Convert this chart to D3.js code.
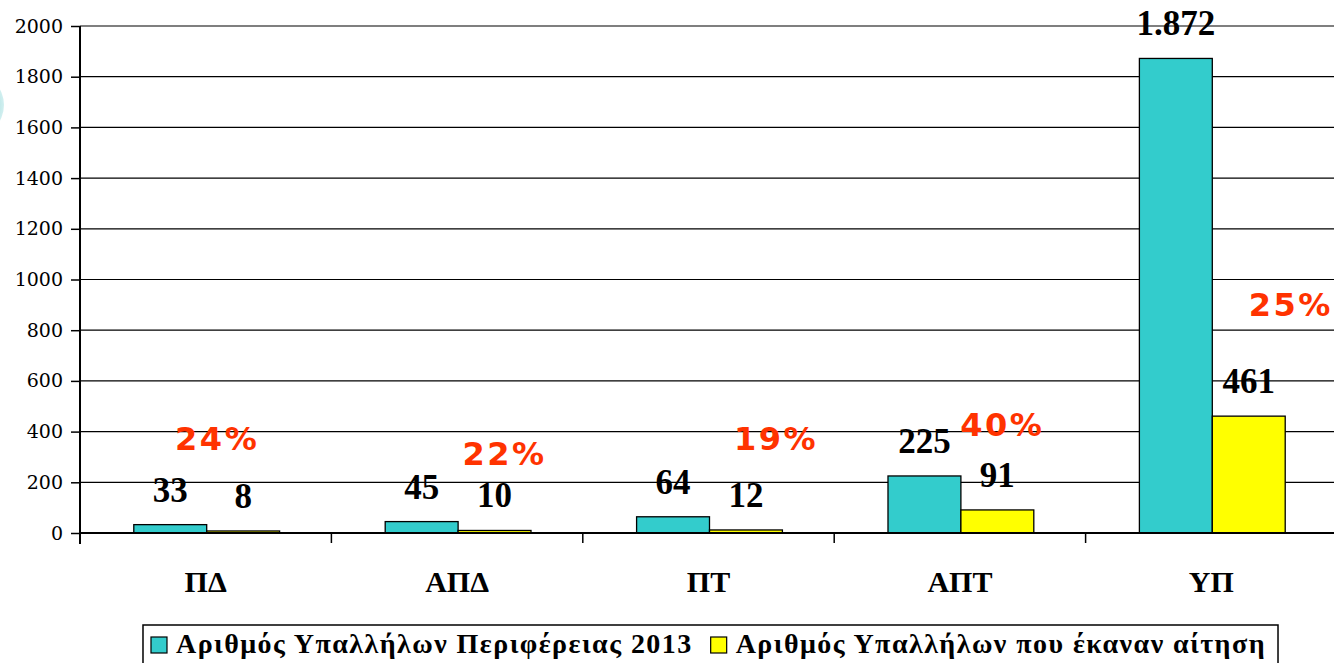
<!DOCTYPE html>
<html><head><meta charset="utf-8">
<script src="https://cdn.jsdelivr.net/npm/d3@7"></script>
<style>body{margin:0;background:#fff;}svg{display:block;}</style>
</head><body>
<svg id="chart" width="1334" height="663"></svg>
<script>
const categories = ["ΠΔ", "ΑΠΔ", "ΠΤ", "ΑΠΤ", "ΥΠ"];
const employees2013 = [33, 45, 64, 225, 1872];
const applicants = [8, 10, 12, 91, 461];
const seriesNames = ["Αριθμός Υπαλλήλων Περιφέρειας 2013", "Αριθμός Υπαλλήλων που έκαναν αίτηση"];
const yTicks = [0, 200, 400, 600, 800, 1000, 1200, 1400, 1600, 1800, 2000];
// manual placement of the percentage annotations (pixel dx from yellow bar, y in value units)
const pctPlacement = [[-25, 375], [11, 315], [31, 375], [6, 430], [43, 905]];

const W = 1334, H = 663;
const m = {left: 80, right: -3, top: 26, bottom: 130};
const svg = d3.select("#chart");

// decorative partial circle at left edge
const defs = svg.append("defs");
const g0 = defs.append("radialGradient").attr("id","deco");
g0.append("stop").attr("offset","0%").attr("stop-color","#1aa3a3");
g0.append("stop").attr("offset","100%").attr("stop-color","#bfe9ea");
svg.append("ellipse").attr("cx",-28).attr("cy",105).attr("rx",32).attr("ry",32)
  .attr("fill","url(#deco)").attr("opacity",0.7);

const x = d3.scaleBand().domain(categories).range([m.left, W - m.right]).padding(0);
const y = d3.scaleLinear().domain([0, 2000]).range([H - m.bottom, m.top]);
const bw = x.bandwidth() * 0.29;

// gridlines
svg.append("g").selectAll("line").data(yTicks.slice(1)).join("line")
  .attr("x1", m.left).attr("x2", W).attr("y1", d => y(d)).attr("y2", d => y(d))
  .attr("stroke", "#000").attr("stroke-width", 1.2);

// bars
const colors = ["#33CCCC", "#FFFF00"];
const series = [employees2013, applicants];
series.forEach((vals, si) => {
  svg.append("g").selectAll("rect").data(vals).join("rect")
    .attr("x", (d, i) => x(categories[i]) + x.bandwidth()/2 - bw + si*bw + 1)
    .attr("y", d => y(d))
    .attr("width", bw)
    .attr("height", d => y(0) - y(d))
    .attr("fill", colors[si]).attr("stroke", "#000").attr("stroke-width", 1.3);
});

// y axis
const yAxis = svg.append("g").attr("transform", `translate(${m.left},0)`)
  .call(d3.axisLeft(y).tickValues(yTicks).tickSize(9).tickPadding(8).tickFormat(d3.format("d")));
yAxis.select(".domain").remove();
yAxis.selectAll(".tick line").attr("stroke", "#000").attr("stroke-width", 1.5);
yAxis.selectAll("text").attr("font-family", "DejaVu Serif").attr("font-size", 19).attr("fill", "#000");
svg.append("line").attr("x1", m.left).attr("x2", m.left).attr("y1", y(2000)).attr("y2", y(0) + 11)
  .attr("stroke", "#000").attr("stroke-width", 2);

// x axis
svg.append("line").attr("x1", m.left).attr("x2", W).attr("y1", y(0)).attr("y2", y(0))
  .attr("stroke", "#000").attr("stroke-width", 2.2);
svg.append("g").selectAll("line").data(categories.slice(1)).join("line")
  .attr("x1", d => x(d)).attr("x2", d => x(d)).attr("y1", y(0)).attr("y2", y(0) + 10)
  .attr("stroke", "#000").attr("stroke-width", 1.5);
svg.append("g").selectAll("text").data(categories).join("text")
  .attr("x", d => x(d) + x.bandwidth()/2).attr("y", y(0) + 59)
  .attr("text-anchor", "middle").attr("font-family", "Liberation Serif").attr("font-weight", "bold")
  .attr("font-size", 30).text(d => d);

// value labels
const fmt = v => v >= 1000 ? d3.format(",")(v).replace(",", ".") : String(v);
series.forEach((vals, si) => {
  svg.append("g").selectAll("text").data(vals).join("text")
    .attr("x", (d, i) => x(categories[i]) + x.bandwidth()/2 - bw/2 + si*bw + 1)
    .attr("y", d => y(d) - 23)
    .attr("text-anchor", "middle").attr("font-family", "Liberation Serif").attr("font-weight", "bold")
    .attr("font-size", 35).attr("fill", "#000").text(d => fmt(d));
});

// percentage annotations
svg.append("g").selectAll("text").data(categories).join("text")
  .attr("x", (d, i) => x(d) + x.bandwidth()/2 + bw/2 + pctPlacement[i][0])
  .attr("y", (d, i) => y(pctPlacement[i][1]) + 12)
  .attr("text-anchor", "middle").attr("font-family", "DejaVu Sans").attr("font-weight", "bold")
  .attr("font-size", 32).attr("fill", "#FF3300").attr("letter-spacing", 2.5)
  .text((d, i) => Math.round(applicants[i] / employees2013[i] * 100) + "%");

// legend
const lg = svg.append("g");
const box = lg.append("rect").attr("fill", "#fff").attr("stroke", "#000").attr("stroke-width", 1.5);
let cx = 0;
seriesNames.forEach((n, i) => {
  const it = lg.append("g");
  it.append("rect").attr("x", cx).attr("y", -16).attr("width", 16).attr("height", 16)
    .attr("fill", colors[i]).attr("stroke", "#000").attr("stroke-width", 1.2);
  const t = it.append("text").attr("x", cx + 25).attr("y", 0).attr("font-family", "Liberation Serif")
    .attr("font-weight", "bold").attr("font-size", 28).attr("letter-spacing", 1.45).text(n);
  cx += 25 + t.node().getComputedTextLength() + 18;
});
const totalW = cx - 18;
const lx = (m.left + W - m.right) / 2 - totalW / 2;
lg.attr("transform", `translate(${lx},653)`);
box.attr("x", -8).attr("y", -28).attr("width", totalW + 20).attr("height", 50);
</script>
</body></html>
